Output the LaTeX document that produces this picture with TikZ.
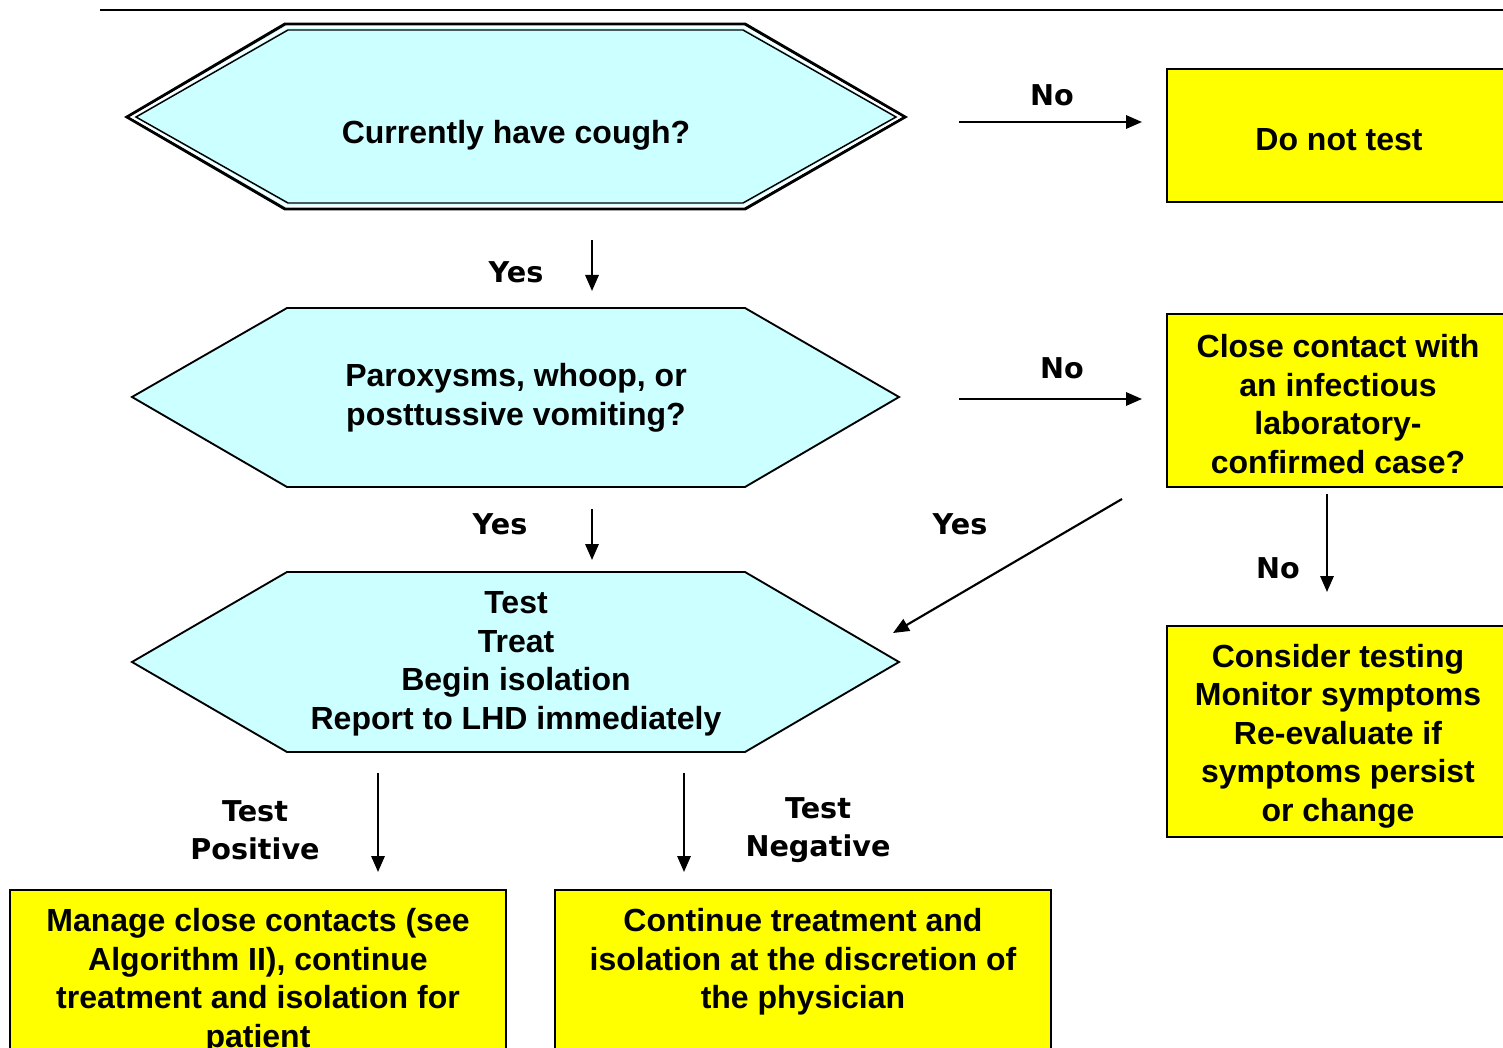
\documentclass[tikz,border=0pt]{standalone}
\usepackage{fontspec}
\setmainfont{Liberation Sans}
\newfontfamily\labfont{DejaVu Sans}
\usetikzlibrary{arrows.meta}
\definecolor{hexfill}{HTML}{CCFFFF}
\definecolor{boxfill}{HTML}{FFFF00}
\tikzset{
  hexshape/.style={fill=hexfill, draw=black, line width=1.4pt, line join=miter},
  hexouter/.style={fill=hexfill, draw=black, line width=2.2pt, line join=miter},
  hexinner/.style={draw=black, line width=1.1pt, line join=miter},
  hexgap/.style={draw=white, line width=1.6pt, line join=miter},
  yellowbox/.style={fill=boxfill, draw=black, line width=1.6pt},
  boxtext/.style={align=center, font=\fontsize{24}{28.9}\selectfont\bfseries, inner sep=0pt},
  labtext/.style={align=center, font=\labfont\fontsize{21.5}{28.5}\selectfont\bfseries, inner sep=0pt},
  arrowline/.style={draw=black, line width=1.6pt, -{Triangle[length=12pt, width=10pt]}}
}
\begin{document}
\begin{tikzpicture}[x=0.75pt,y=-0.75pt]
\useasboundingbox (0,0) rectangle (1503,1048);
\clip (0,0) rectangle (1503,1048);
% top rule
\draw[line width=1.6pt] (100,10) -- (1510,10);
% hexagons
\path[hexouter] (127,117) -- (285,24) -- (745,24) -- (905,117) -- (745,209) -- (285,209) -- cycle;
\path[hexgap] (132,117) -- (287,27) -- (744,27) -- (900,117) -- (744,206) -- (287,206) -- cycle;
\path[hexinner] (136,117) -- (288,30) -- (743,30) -- (896,117) -- (743,203) -- (288,203) -- cycle;
\node[boxtext] (q1) at (516,135) {Currently have cough?};
\path[hexshape] (132,397) -- (287,308) -- (745,308) -- (899,397) -- (745,487) -- (287,487) -- cycle;
\node[boxtext] (q2) at (516,398) {Paroxysms, whoop, or\\posttussive vomiting?};
\path[hexshape] (132,662) -- (287,572) -- (745,572) -- (899,662) -- (745,752) -- (287,752) -- cycle;
\node[boxtext] (act) at (516,664) {Test\\Treat\\Begin isolation\\Report to LHD immediately};
% yellow boxes
\path[yellowbox] (1167,69) rectangle (1520,202);
\node[boxtext] (nt) at (1339,140) {Do not test};
\path[yellowbox] (1167,314) rectangle (1520,487);
\node[boxtext] (cc) at (1338,404) {Close contact with\\an infectious\\laboratory-\\confirmed case?};
\path[yellowbox] (1167,626) rectangle (1520,837);
\node[boxtext] (ct) at (1338,736) {Consider testing\\Monitor symptoms\\Re-evaluate if\\symptoms persist\\or change};
\path[yellowbox] (10,890) rectangle (506,1070);
\node[boxtext] (pos) at (258,981) {Manage close contacts (see\\Algorithm II), continue\\treatment and isolation for\\patient};
\path[yellowbox] (555,890) rectangle (1051,1070);
\node[boxtext] (neg) at (803,962) {Continue treatment and\\isolation at the discretion of\\the physician};
% arrow coordinates
\coordinate (a1s) at (959,122); \coordinate (a1e) at (1142,122);
\coordinate (a2s) at (592,240); \coordinate (a2e) at (592,291);
\coordinate (a3s) at (959,399); \coordinate (a3e) at (1142,399);
\coordinate (a4s) at (592,509); \coordinate (a4e) at (592,560);
\coordinate (a5s) at (1122,499); \coordinate (a5e) at (893,633);
\coordinate (a6s) at (1327,494); \coordinate (a6e) at (1327,592);
\coordinate (a7s) at (378,773); \coordinate (a7e) at (378,872);
\coordinate (a8s) at (684,773); \coordinate (a8e) at (684,872);
\draw[arrowline] (a1s) -- (a1e);
\draw[arrowline] (a2s) -- (a2e);
\draw[arrowline] (a3s) -- (a3e);
\draw[arrowline] (a4s) -- (a4e);
\draw[arrowline] (a5s) -- (a5e);
\draw[arrowline] (a6s) -- (a6e);
\draw[arrowline] (a7s) -- (a7e);
\draw[arrowline] (a8s) -- (a8e);
% labels
\node[labtext] (l1) at (1052,95) {No};
\node[labtext] (l2) at (516,272) {Yes};
\node[labtext] (l3) at (1062,368) {No};
\node[labtext] (l4) at (500,524) {Yes};
\node[labtext] (l5) at (960,524) {Yes};
\node[labtext] (l6) at (1278,568) {No};
\node[labtext] (l7) at (255,830) {Test\\Positive};
\node[labtext] (l8) at (818,830) {Test\\Negative};
\end{tikzpicture}
\end{document}
